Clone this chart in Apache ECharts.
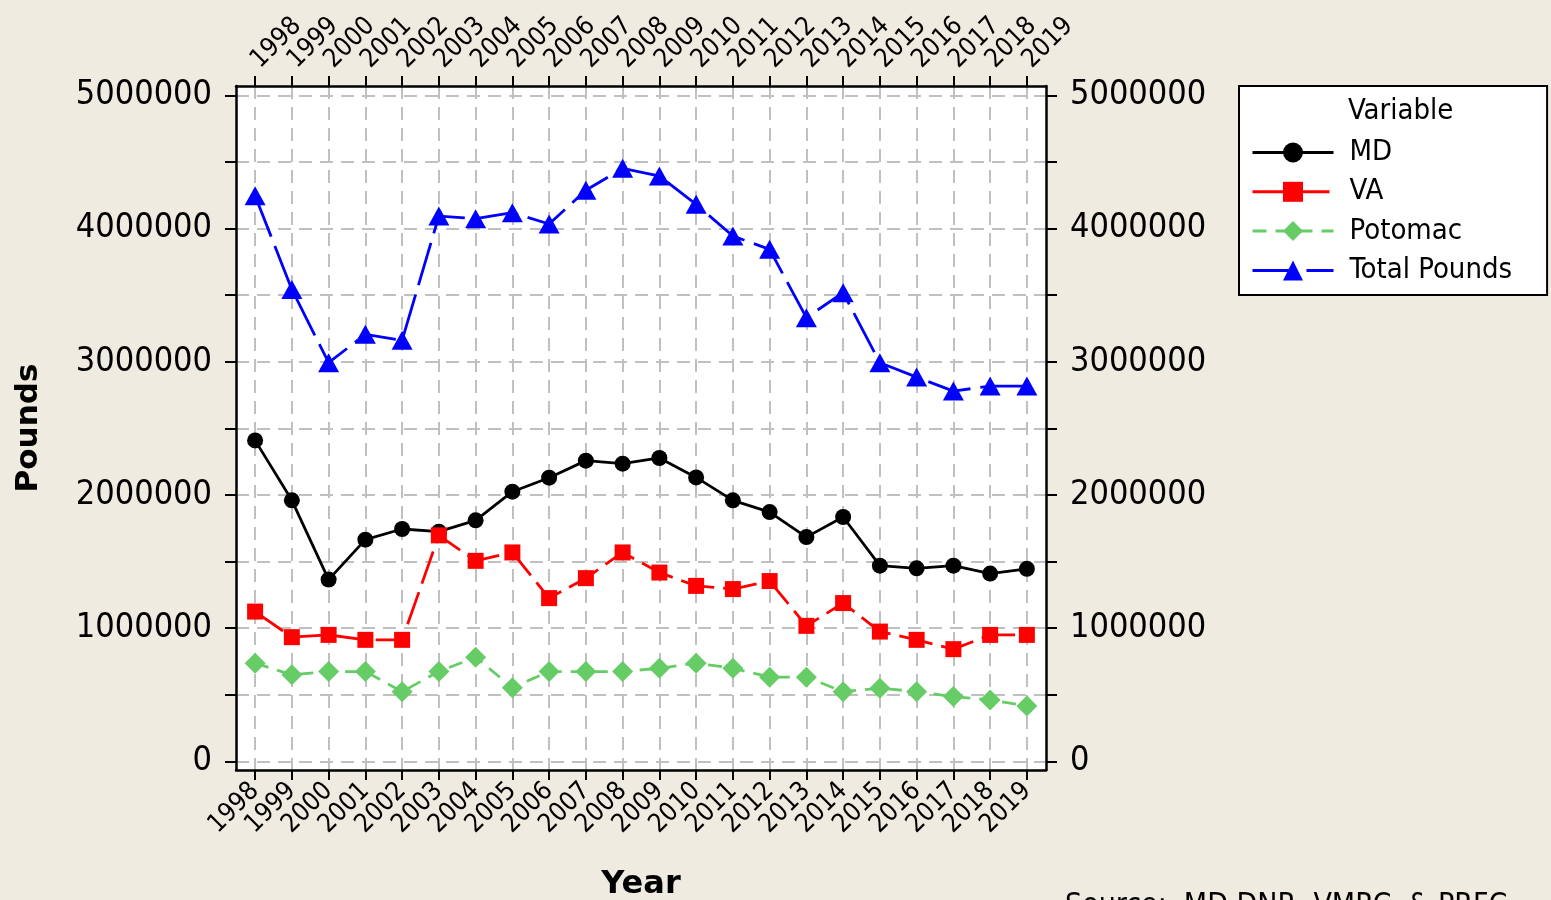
<!DOCTYPE html>
<html>
<head>
<meta charset="utf-8">
<title>Pounds by year</title>
<script src="https://cdn.jsdelivr.net/npm/echarts@6/dist/echarts.min.js"></script>
<style>
  html, body { margin: 0; padding: 0; background: #f0ebe0; }
  #chart { width: 1551px; height: 900px; }
</style>
</head>
<body>
<div id="chart"></div>
<script>
// years on the x axis
const years = [1998, 1999, 2000, 2001, 2002, 2003, 2004, 2005, 2006, 2007, 2008,
  2009, 2010, 2011, 2012, 2013, 2014, 2015, 2016, 2017, 2018, 2019]

// landings in pounds
const md = [2410000, 1960000, 1365000, 1665000, 1745000, 1725000, 1810000, 2025000, 2130000, 2258000, 2235000,
  2278000, 2132000, 1960000, 1872000, 1684000, 1835000, 1470000, 1450000, 1470000, 1410000, 1446000]
const va = [1125000, 933000, 950000, 913000, 913000, 1697000, 1506000, 1569000, 1226000, 1376000, 1569000,
  1418000, 1318000, 1294000, 1354000, 1018000, 1189000, 975000, 913000, 843000, 950000, 950000]
const potomac = [738000, 650000, 675000, 675000, 524000, 675000, 783000, 554000, 675000, 675000, 675000,
  700000, 738000, 700000, 633000, 633000, 524000, 550000, 524000, 487000, 462000, 417000]
const total = [4247000, 3543000, 2993000, 3206000, 3161000, 4094000, 4074000, 4119000, 4034000, 4287000, 4452000,
  4394000, 4182000, 3944000, 3844000, 3331000, 3519000, 2993000, 2885000, 2780000, 2818000, 2818000]

// y axis ticks
const yLabelValues = [0, 1000000, 2000000, 3000000, 4000000, 5000000]
const yTickValues = [0, 500000, 1000000, 1500000, 2000000, 2500000, 3000000, 3500000, 4000000, 4500000, 5000000]

const pairs = arr => arr.map((v, i) => [years[i], v])

const FONT = '"DejaVu Sans Condensed", "DejaVu Sans", sans-serif'
const gridLine = { show: true, lineStyle: { color: '#c0c0c0', width: 2, type: [13, 8] } }
const axisLine = { show: true, onZero: false, lineStyle: { color: '#000', width: 2.5 } }

const xAxisBase = {
  type: 'value',
  min: 1997.48,
  max: 2019.52,
  axisLine,
  axisTick: { show: true, inside: false, length: 10, customValues: years, lineStyle: { color: '#000', width: 2 } },
  axisLabel: {
    customValues: years, margin: 17, color: '#000', fontFamily: FONT, fontSize: 26,
    showMinLabel: true, showMaxLabel: true, hideOverlap: false, formatter: v => String(v),
  },
}

const yAxisBase = {
  type: 'value',
  min: -64000,
  max: 5070000,
  axisLine,
  axisTick: { show: true, inside: false, length: 11, customValues: yTickValues, lineStyle: { color: '#000', width: 2 } },
  axisLabel: { customValues: yLabelValues, margin: 24, color: '#000', fontFamily: FONT, fontSize: 34, formatter: v => String(v) },
}

const chart = echarts.init(document.getElementById('chart'), null, { renderer: 'canvas' })

chart.setOption({
  backgroundColor: '#f0ebe0',
  animation: false,
  title: {
    text: 'Variable',
    left: 1348,
    top: 97,
    padding: 0,
    textStyle: { fontFamily: FONT, fontSize: 29, fontWeight: 'normal', color: '#000' },
  },
  legend: {
    orient: 'vertical',
    left: 1239,
    top: 86,
    padding: [52, 35, 10, 12],
    backgroundColor: '#fff',
    borderColor: '#000',
    borderWidth: 2,
    itemWidth: 81,
    itemHeight: 25,
    itemGap: 10.3,
    lineStyle: { width: 3 },
    textStyle: { fontFamily: FONT, fontSize: 29, color: '#000', padding: [0, 0, 0, 11] },
    data: ['MD', 'VA', 'Potomac', 'Total Pounds'],
  },
  grid: {
    left: 236, right: 505, top: 86, bottom: 130,
    outerBoundsMode: 'none',
    show: true, backgroundColor: '#fff', borderWidth: 0,
  },
  xAxis: [
    {
      ...xAxisBase,
      position: 'bottom',
      axisLabel: { ...xAxisBase.axisLabel, rotate: 45 },
      splitLine: gridLine,
      name: 'Year',
      nameLocation: 'middle',
      nameGap: 99,
      nameTextStyle: { fontFamily: '"DejaVu Sans", sans-serif', fontSize: 32, fontWeight: 'bold', color: '#000' },
    },
    {
      ...xAxisBase,
      position: 'top',
      axisLabel: { ...xAxisBase.axisLabel, rotate: -45, margin: 22 },
      splitLine: { show: false },
    },
  ],
  yAxis: [
    {
      ...yAxisBase,
      position: 'left',
      splitLine: gridLine,
      name: 'Pounds',
      nameLocation: 'middle',
      nameRotate: 90,
      nameGap: 192,
      nameTextStyle: { fontFamily: '"DejaVu Sans", sans-serif', fontSize: 31, fontWeight: 'bold', color: '#000' },
    },
    { ...yAxisBase, position: 'right', splitLine: { show: false } },
  ],
  series: [
    {
      name: 'MD', type: 'line', data: pairs(md),
      symbol: 'circle', symbolSize: 16,
      lineStyle: { color: '#000', width: 2.8, type: 'solid' },
      itemStyle: { color: '#000' },
    },
    {
      name: 'VA', type: 'line', data: pairs(va),
      symbol: 'rect', symbolSize: 16,
      lineStyle: { color: '#ff0000', width: 2.8, type: [34, 9] },
      itemStyle: { color: '#ff0000' },
    },
    {
      name: 'Potomac', type: 'line', data: pairs(potomac),
      symbol: 'diamond', symbolSize: 21,
      lineStyle: { color: '#66cc66', width: 2.8, type: [14, 9] },
      itemStyle: { color: '#66cc66' },
    },
    {
      name: 'Total Pounds', type: 'line', data: pairs(total),
      symbol: 'triangle', symbolSize: [21, 19],
      lineStyle: { color: '#0000ff', width: 2.8, type: [44, 10] },
      itemStyle: { color: '#0000ff' },
    },
  ],
  graphic: [
    {
      type: 'text', left: 1065, top: 891,
      style: { text: 'Source:  MD DNR, VMRC, & PRFC', fontFamily: FONT, fontSize: 30, fill: '#000' },
    },
  ],
})
</script>
</body>
</html>
